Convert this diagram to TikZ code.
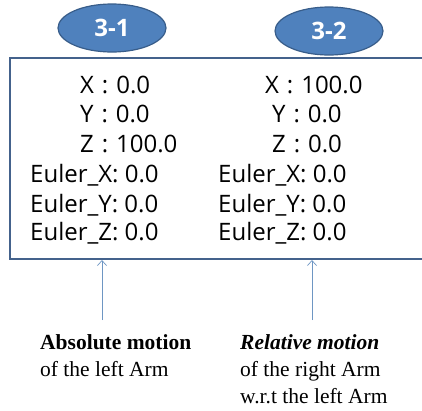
\documentclass[tikz,border=0pt]{standalone}
\usepackage{fontspec}
\setmainfont{Liberation Serif}
\newfontfamily\valfont{Open Sans}
\usetikzlibrary{arrows.meta,positioning,shapes.geometric}
\definecolor{ovalF}{RGB}{79,129,189}
\definecolor{ovalD}{RGB}{56,93,138}
\definecolor{boxD}{RGB}{68,98,140}
\definecolor{arrC}{RGB}{110,150,195}
\newcommand\colsep{\hspace{.33em}:\hspace{.33em}}

\begin{document}
\begin{tikzpicture}[x=1pt,y=-1pt,
  oval/.style={ellipse,draw=ovalD,line width=1.2pt,fill=ovalF,minimum width=108pt,minimum height=48pt,inner sep=0pt,text=white,font=\valfont\bfseries\fontsize{24}{28}\selectfont},
  val/.style={anchor=base west,inner sep=0pt,font=\valfont\fontsize{24}{28}\selectfont},
  note/.style={anchor=base west,inner sep=0pt,font=\fontsize{21.5}{26}\selectfont},
  uparr/.style={draw=arrC,line width=0.7pt,-{Straight Barb[length=5pt,width=9pt]}}]
  \clip (0,0) rectangle (422,410);
  \node[oval] (oa) at (112,28) {3-1};
  \node[oval] (ob) at (329,31) {3-2};
  \node[draw=boxD,line width=2pt,anchor=north west,minimum width=430pt,minimum height=201pt] (box) at (9,57) {};
  % left column
  \foreach \t/\y [count=\i] in {X/93,Y/122,Z/152}
    \node[val] (la\i) at (80,\y) {\t\colsep\ifnum\i=3 100.0\else 0.0\fi};
  \foreach \t/\y [count=\i] in {X/182,Y/212,Z/240}
    \node[val] (le\i) at (30,\y) {Euler\_\t: 0.0};
  % right column
  \node[val] (ra1) at (265,93) {X\colsep100.0};
  \node[val] (ra2) at (272,122) {Y\colsep0.0};
  \node[val] (ra3) at (272,152) {Z\colsep0.0};
  \foreach \t/\y [count=\i] in {X/182,Y/212,Z/240}
    \node[val] (re\i) at (218,\y) {Euler\_\t: 0.0};
  % notes
  \node[note] (abs1) at (40,349) {\textbf{Absolute motion}};
  \node[note] (abs2) at (40,376) {of the left Arm};
  \node[note] (rel1) at (240,349) {\textbf{\textit{Relative motion}}};
  \node[note] (rel2) at (240,376) {of the right Arm};
  \node[note] (rel3) at (240,403) {w.r.t the left Arm};
  \coordinate (pa) at (102,320);
  \coordinate (pb) at (312,320);
  \draw[uparr] (pa) -- (pa |- box.south);
  \draw[uparr] (pb) -- (pb |- box.south);
\end{tikzpicture}
\end{document}
